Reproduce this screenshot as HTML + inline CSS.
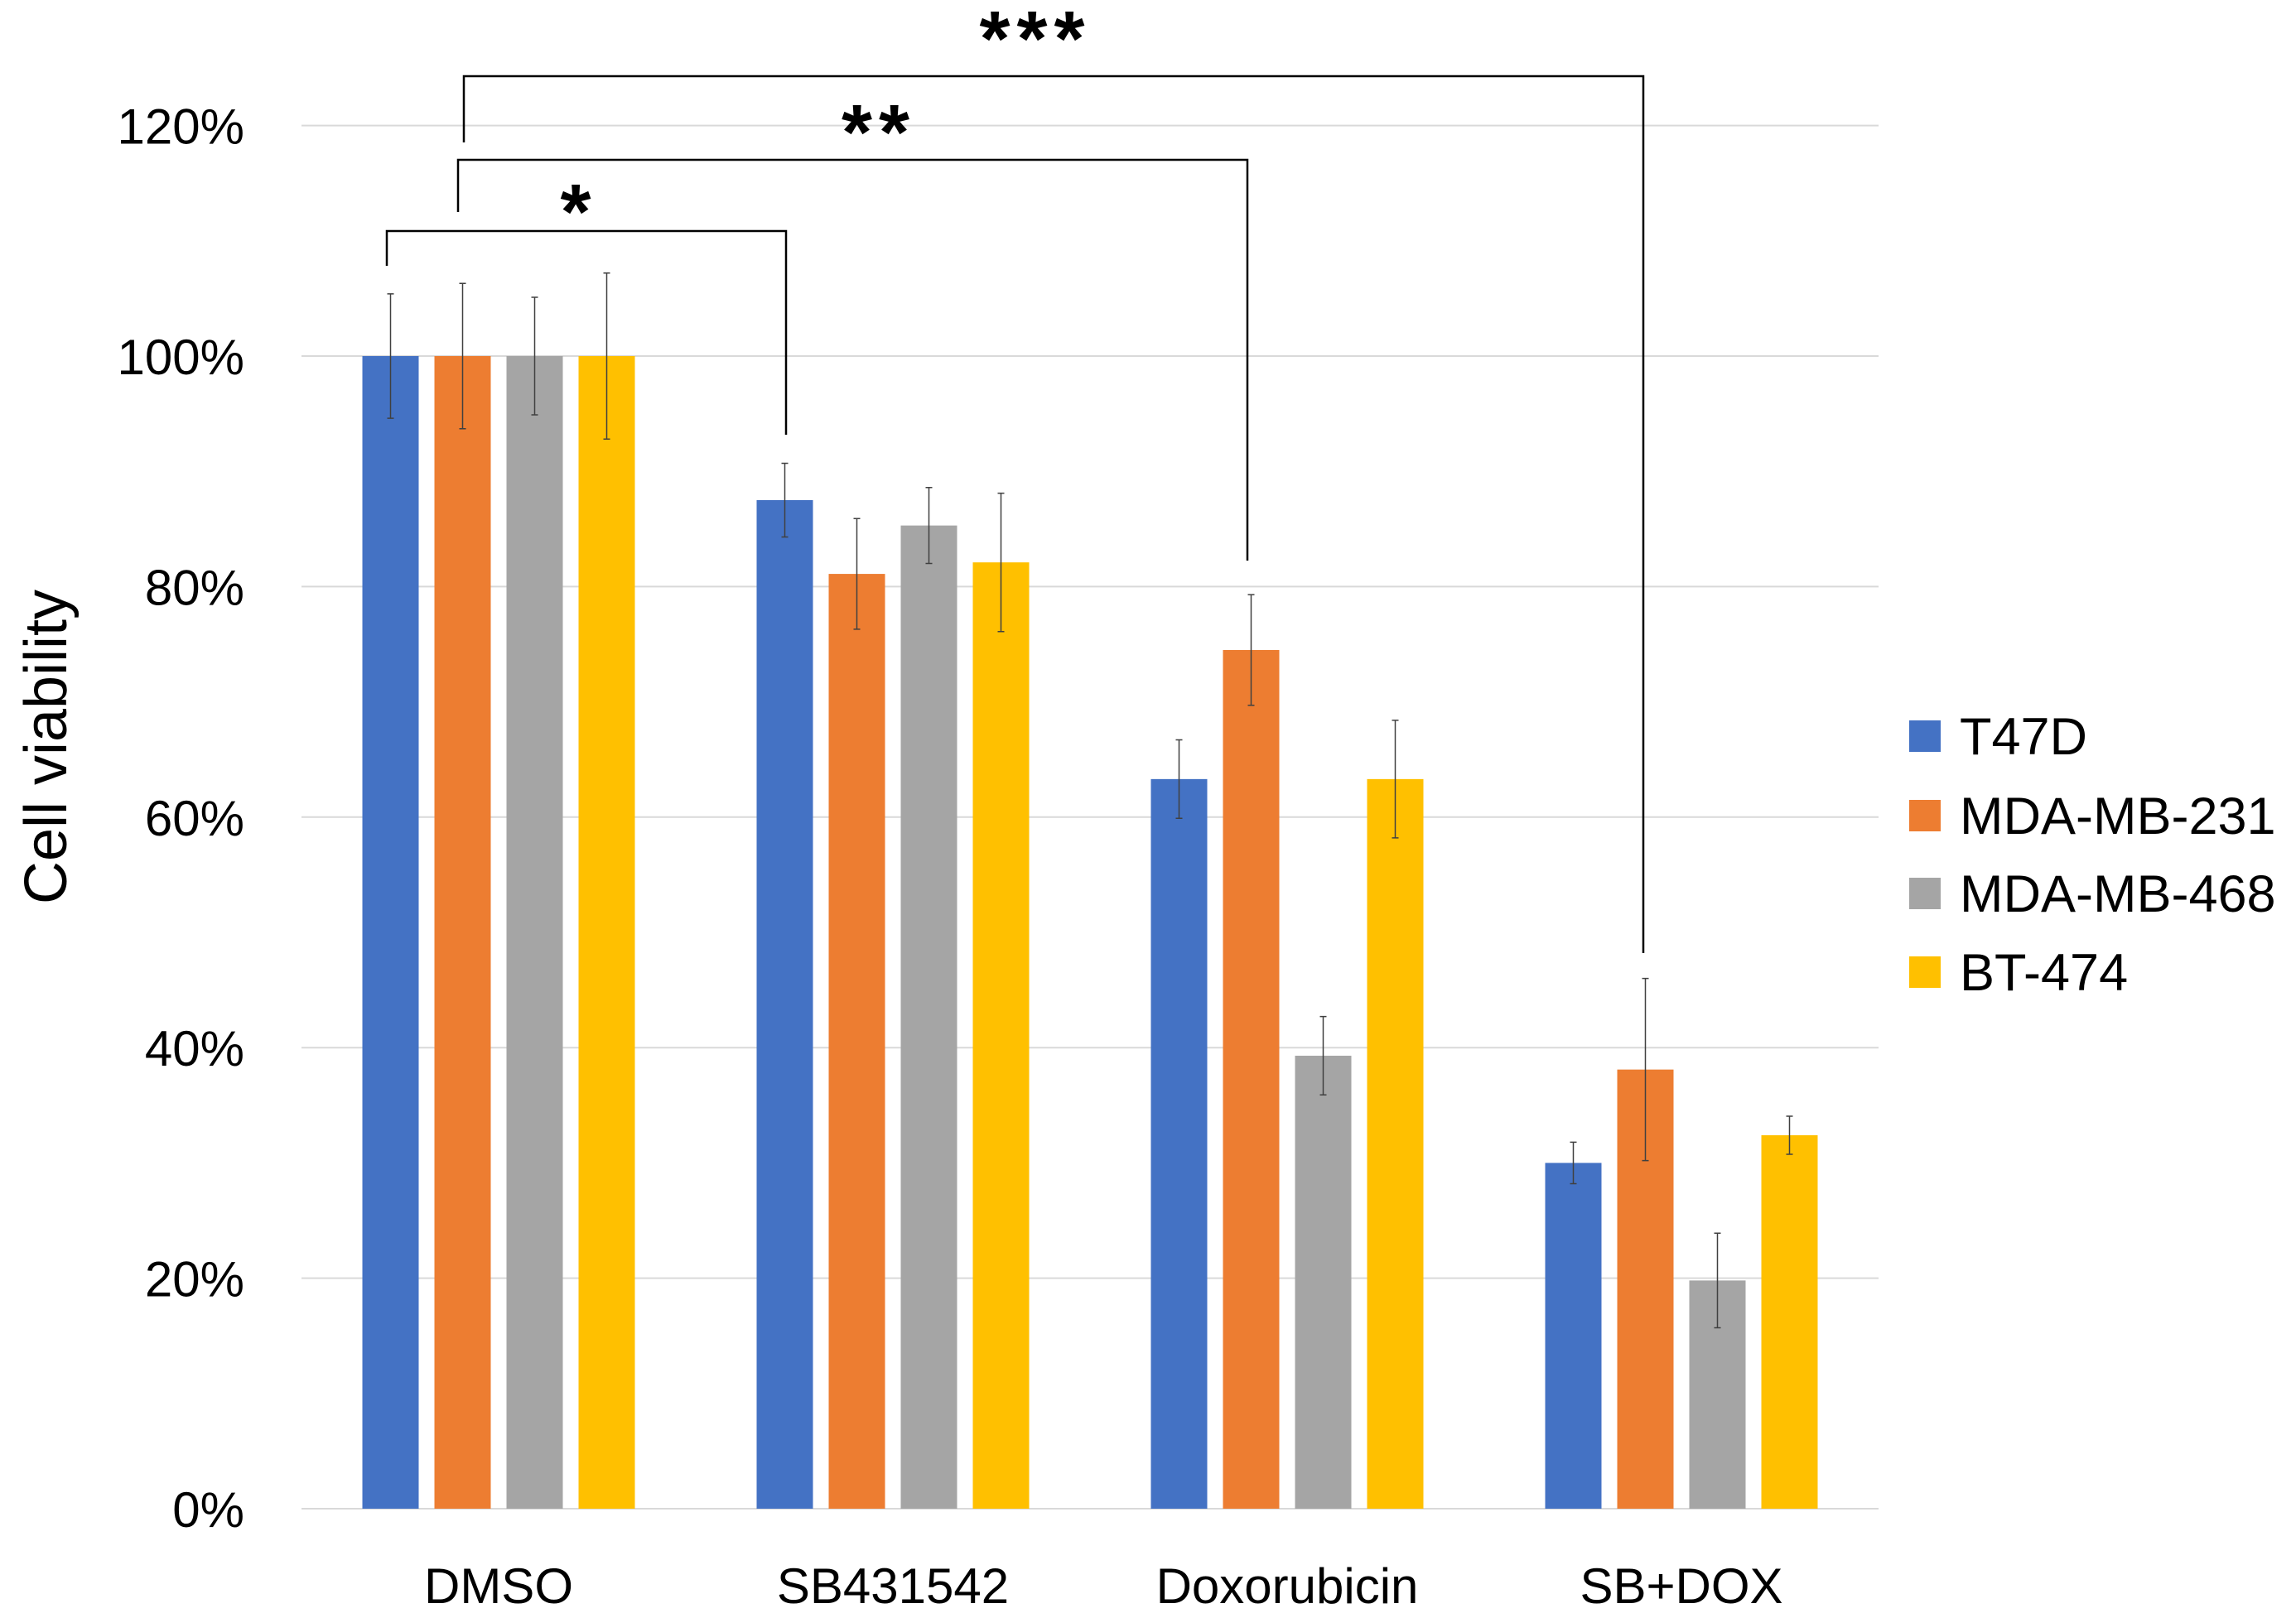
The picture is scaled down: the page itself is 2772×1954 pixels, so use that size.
<!DOCTYPE html>
<html><head><meta charset="utf-8"><style>
html,body{margin:0;padding:0;background:#fff;}
svg{display:block;font-family:"Liberation Sans",sans-serif;}
</style></head><body>
<svg id="chart" width="2772" height="1954" viewBox="0 0 2772 1954" xmlns="http://www.w3.org/2000/svg">
<g id="grid"></g>
<g id="yticks"></g>
<g id="bars"></g>
<g id="errs"></g>
<g id="xlabels"></g>
<text x="0" y="0" transform="translate(80,902) rotate(-90)" text-anchor="middle" font-size="72" fill="#000">Cell viability</text>
<g stroke="#000" stroke-width="2.5" fill="none">
<polyline points="467,321 467,279 949,279 949,525"/>
<polyline points="553,256 553,193 1506,193 1506,677"/>
<polyline points="560,172 560,92 1984,92 1984,1151"/>
</g>
<text x="695" y="288" text-anchor="middle" font-size="95" font-weight="bold">*</text>
<text x="1061" y="192" text-anchor="middle" font-size="95" font-weight="bold" letter-spacing="8">**</text>
<text x="1250" y="79" text-anchor="middle" font-size="95" font-weight="bold" letter-spacing="8">***</text>
<g id="legend"></g>
</svg>
<script>
const categories = ["DMSO","SB431542","Doxorubicin","SB+DOX"];
const seriesNames = ["T47D","MDA-MB-231","MDA-MB-468","BT-474"];
const t47d = [100, 87.5, 63.3, 30.0];
const mda231 = [100, 81.1, 74.5, 38.1];
const mda468 = [100, 85.3, 39.3, 19.8];
const bt474 = [100, 82.1, 63.3, 32.4];
const t47dErr = [5.4, 3.2, 3.4, 1.8];
const mda231Err = [6.3, 4.8, 4.8, 7.9];
const mda468Err = [5.1, 3.3, 3.4, 4.1];
const bt474Err = [7.2, 6.0, 5.1, 1.65];
const yTicks = [0,20,40,60,80,100,120];
const yTickLabels = ["0%","20%","40%","60%","80%","100%","120%"];

const colors = ["#4472c4","#ed7d31","#a5a5a5","#ffc000"];
const series = [t47d, mda231, mda468, bt474];
const errs = [t47dErr, mda231Err, mda468Err, bt474Err];
const NS = "http://www.w3.org/2000/svg";
const plotL = 364, plotR = 2268, y0 = 1822, y100 = 430;
const yScale = v => y0 - (y0 - y100) * v / 100;
const catW = (plotR - plotL) / categories.length;
const barW = 68, barStep = 87;
const xBar = (ci, si) => plotL + catW * ci + catW / 2 - (3 * barStep + barW) / 2 + si * barStep;
function mk(tag, attrs, parent){const e=document.createElementNS(NS,tag);for(const k in attrs)e.setAttribute(k,attrs[k]);parent.appendChild(e);return e;}

const grid=document.getElementById('grid'), yt=document.getElementById('yticks');
yTicks.forEach((v,i)=>{
  const l=mk('line',{x1:plotL,x2:plotR,y1:yScale(v),y2:yScale(v),stroke:'#d9d9d9','stroke-width':2},grid);
  
  
  const t=mk('text',{x:295,y:yScale(v)+22,'text-anchor':'end','font-size':60,fill:'#000'},yt);
  t.textContent=yTickLabels[i];
  
  
});
const bars=document.getElementById('bars'), eg=document.getElementById('errs');
series.forEach((vals,si)=>{
  vals.forEach((v,ci)=>{
    const x=xBar(ci,si);
    const r=mk('rect',{x:x,y:yScale(v),width:barW,height:y0-yScale(v),fill:colors[si]},bars);
    
    
    const e=errs[si][ci], cx=x+barW/2, yt1=yScale(v+e), yb=yScale(v-e);
    const g=mk('path',{d:`M${cx},${yt1}V${yb}M${cx-4},${yt1}H${cx+4}M${cx-4},${yb}H${cx+4}`,stroke:'#404040','stroke-width':1.5,fill:'none'},eg);
    
    
  });
});
const xl=document.getElementById('xlabels');
categories.forEach((c,ci)=>{
  const t=mk('text',{x:plotL+catW*ci+catW/2,y:1936,'text-anchor':'middle','font-size':60,fill:'#000'},xl);
  t.textContent=c;
  
  
});
const lg=document.getElementById('legend');
const legY=[889,985,1079,1174];
seriesNames.forEach((n,i)=>{
  const r=mk('rect',{x:2305,y:legY[i]-19,width:38,height:38,fill:colors[i]},lg);
  
  
  const t=mk('text',{x:2366,y:legY[i]+22,'font-size':63,fill:'#000'},lg);
  t.textContent=n;
  
  
});
</script>
</body></html>
